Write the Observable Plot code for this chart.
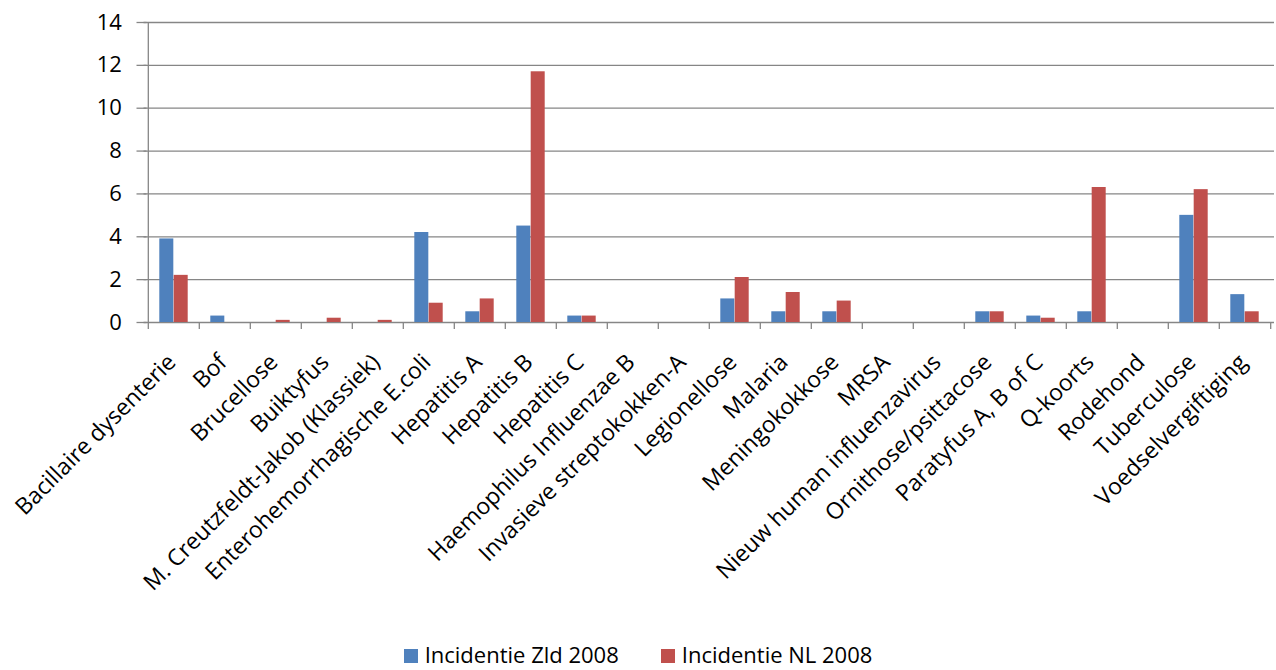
<!DOCTYPE html>
<html>
<head>
<meta charset="utf-8">
<script src="https://cdn.jsdelivr.net/npm/d3@7"></script>
<script src="https://cdn.jsdelivr.net/npm/@observablehq/plot@0.6"></script>
<style>
  html, body { margin: 0; padding: 0; background: #fff; overflow: hidden; }
  #wrap { position: relative; width: 1276px; height: 670px; font-family: "Open Sans", sans-serif; overflow: hidden; }
  #chart svg text { fill: #000; }
  #legend { position: absolute; left: 0; top: 639px; width: 1276px; height: 31px; display: flex; justify-content: center; align-items: center; font-size: 22px; line-height: 31px; color: #000; }
  .item { display: flex; align-items: center; margin: 0 21px; }
  .sw { width: 14px; height: 14px; margin-right: 7px; margin-top: 2px; }
</style>
</head>
<body>
<div id="wrap">
  <div id="chart"></div>
  <div id="legend"></div>
</div>
<script>
const categories = [
  "Bacillaire dysenterie", "Bof", "Brucellose", "Buiktyfus",
  "M. Creutzfeldt-Jakob (Klassiek)", "Enterohemorrhagische E.coli",
  "Hepatitis A", "Hepatitis B", "Hepatitis C", "Haemophilus Influenzae B",
  "Invasieve streptokokken-A", "Legionellose", "Malaria", "Meningokokkose",
  "MRSA", "Nieuw human influenzavirus", "Ornithose/psittacose",
  "Paratyfus A, B of C", "Q-koorts", "Rodehond", "Tuberculose", "Voedselvergiftiging"
];
const seriesNames = ["Incidentie Zld 2008", "Incidentie NL 2008"];
const zld2008 = [3.9, 0.3, 0, 0, 0, 4.2, 0.5, 4.5, 0.3, 0, 0, 1.1, 0.5, 0.5, 0, 0, 0.5, 0.3, 0.5, 0, 5.0, 1.3];
const nl2008  = [2.2, 0, 0.1, 0.2, 0.1, 0.9, 1.1, 11.7, 0.3, 0, 0, 2.1, 1.4, 1.0, 0, 0, 0.5, 0.2, 6.3, 0, 6.2, 0.5];
const yTicks = [0, 2, 4, 6, 8, 10, 12, 14];
const colors = ["#4F81BD", "#C0504D"];

const W = 1276, H = 636;
const mL = 143.5, mR = 2, mT = 22, mB = H - 322;
const plotW = W - mL - mR;
const bw = plotW / categories.length;
const barW = 14.4, outer = 11.3;

const rowsZ = categories.map((c, i) => ({category: c, series: seriesNames[0], value: zld2008[i]}));
const rowsN = categories.map((c, i) => ({category: c, series: seriesNames[1], value: nl2008[i]}));

const grey = "#868686";
const chart = Plot.plot({
  width: W, height: H,
  marginLeft: mL, marginRight: mR, marginTop: mT, marginBottom: mB,
  style: {fontFamily: "Open Sans, sans-serif", fontSize: "22px", color: "#000", background: "#fff"},
  x: {domain: categories, padding: 0, axis: null},
  y: {domain: [0, 14], axis: null},
  color: {domain: seriesNames, range: colors},
  marks: [
    Plot.ruleY(yTicks, {stroke: grey, strokeWidth: 1.3}),
    Plot.ruleY(yTicks, {stroke: grey, strokeWidth: 1.3, insetLeft: -7, insetRight: plotW - 3}),
    Plot.ruleX([categories[0]], {x: d => d, y1: 0, y2: 14, dx: -bw / 2, stroke: grey, strokeWidth: 1.3}),
    Plot.ruleX(categories, {x: d => d, y1: 0, y2: 0, insetBottom: -7, dx: -bw / 2, stroke: grey, strokeWidth: 1.3}),
    Plot.ruleX([categories[categories.length - 1]], {x: d => d, y1: 0, y2: 0, insetBottom: -7, dx: bw / 2, stroke: grey, strokeWidth: 1.3}),
    Plot.barY(rowsZ, {x: "category", y: "value", fill: "series", insetLeft: outer, insetRight: bw - outer - barW}),
    Plot.barY(rowsN, {x: "category", y: "value", fill: "series", insetLeft: bw - outer - barW, insetRight: outer}),
    Plot.text(yTicks, {x: () => categories[0], y: d => d, text: d => String(d), textAnchor: "end", lineAnchor: "middle", dx: -bw / 2 - 26.5, fontSize: 22, fill: "#000"}),
    Plot.text(categories, {x: d => d, y: () => 0, text: d => d, rotate: -45, textAnchor: "end", lineAnchor: "middle", dx: -2, dy: 36, fontSize: 23, fill: "#000"})
  ]
});
document.getElementById("chart").appendChild(chart);

const legend = document.getElementById("legend");
seriesNames.forEach((s, i) => {
  const it = document.createElement("div");
  it.className = "item";
  const sw = document.createElement("div");
  sw.className = "sw";
  sw.style.background = colors[i];
  const t = document.createElement("span");
  t.textContent = s;
  it.appendChild(sw);
  it.appendChild(t);
  legend.appendChild(it);
});
</script>
</body>
</html>
